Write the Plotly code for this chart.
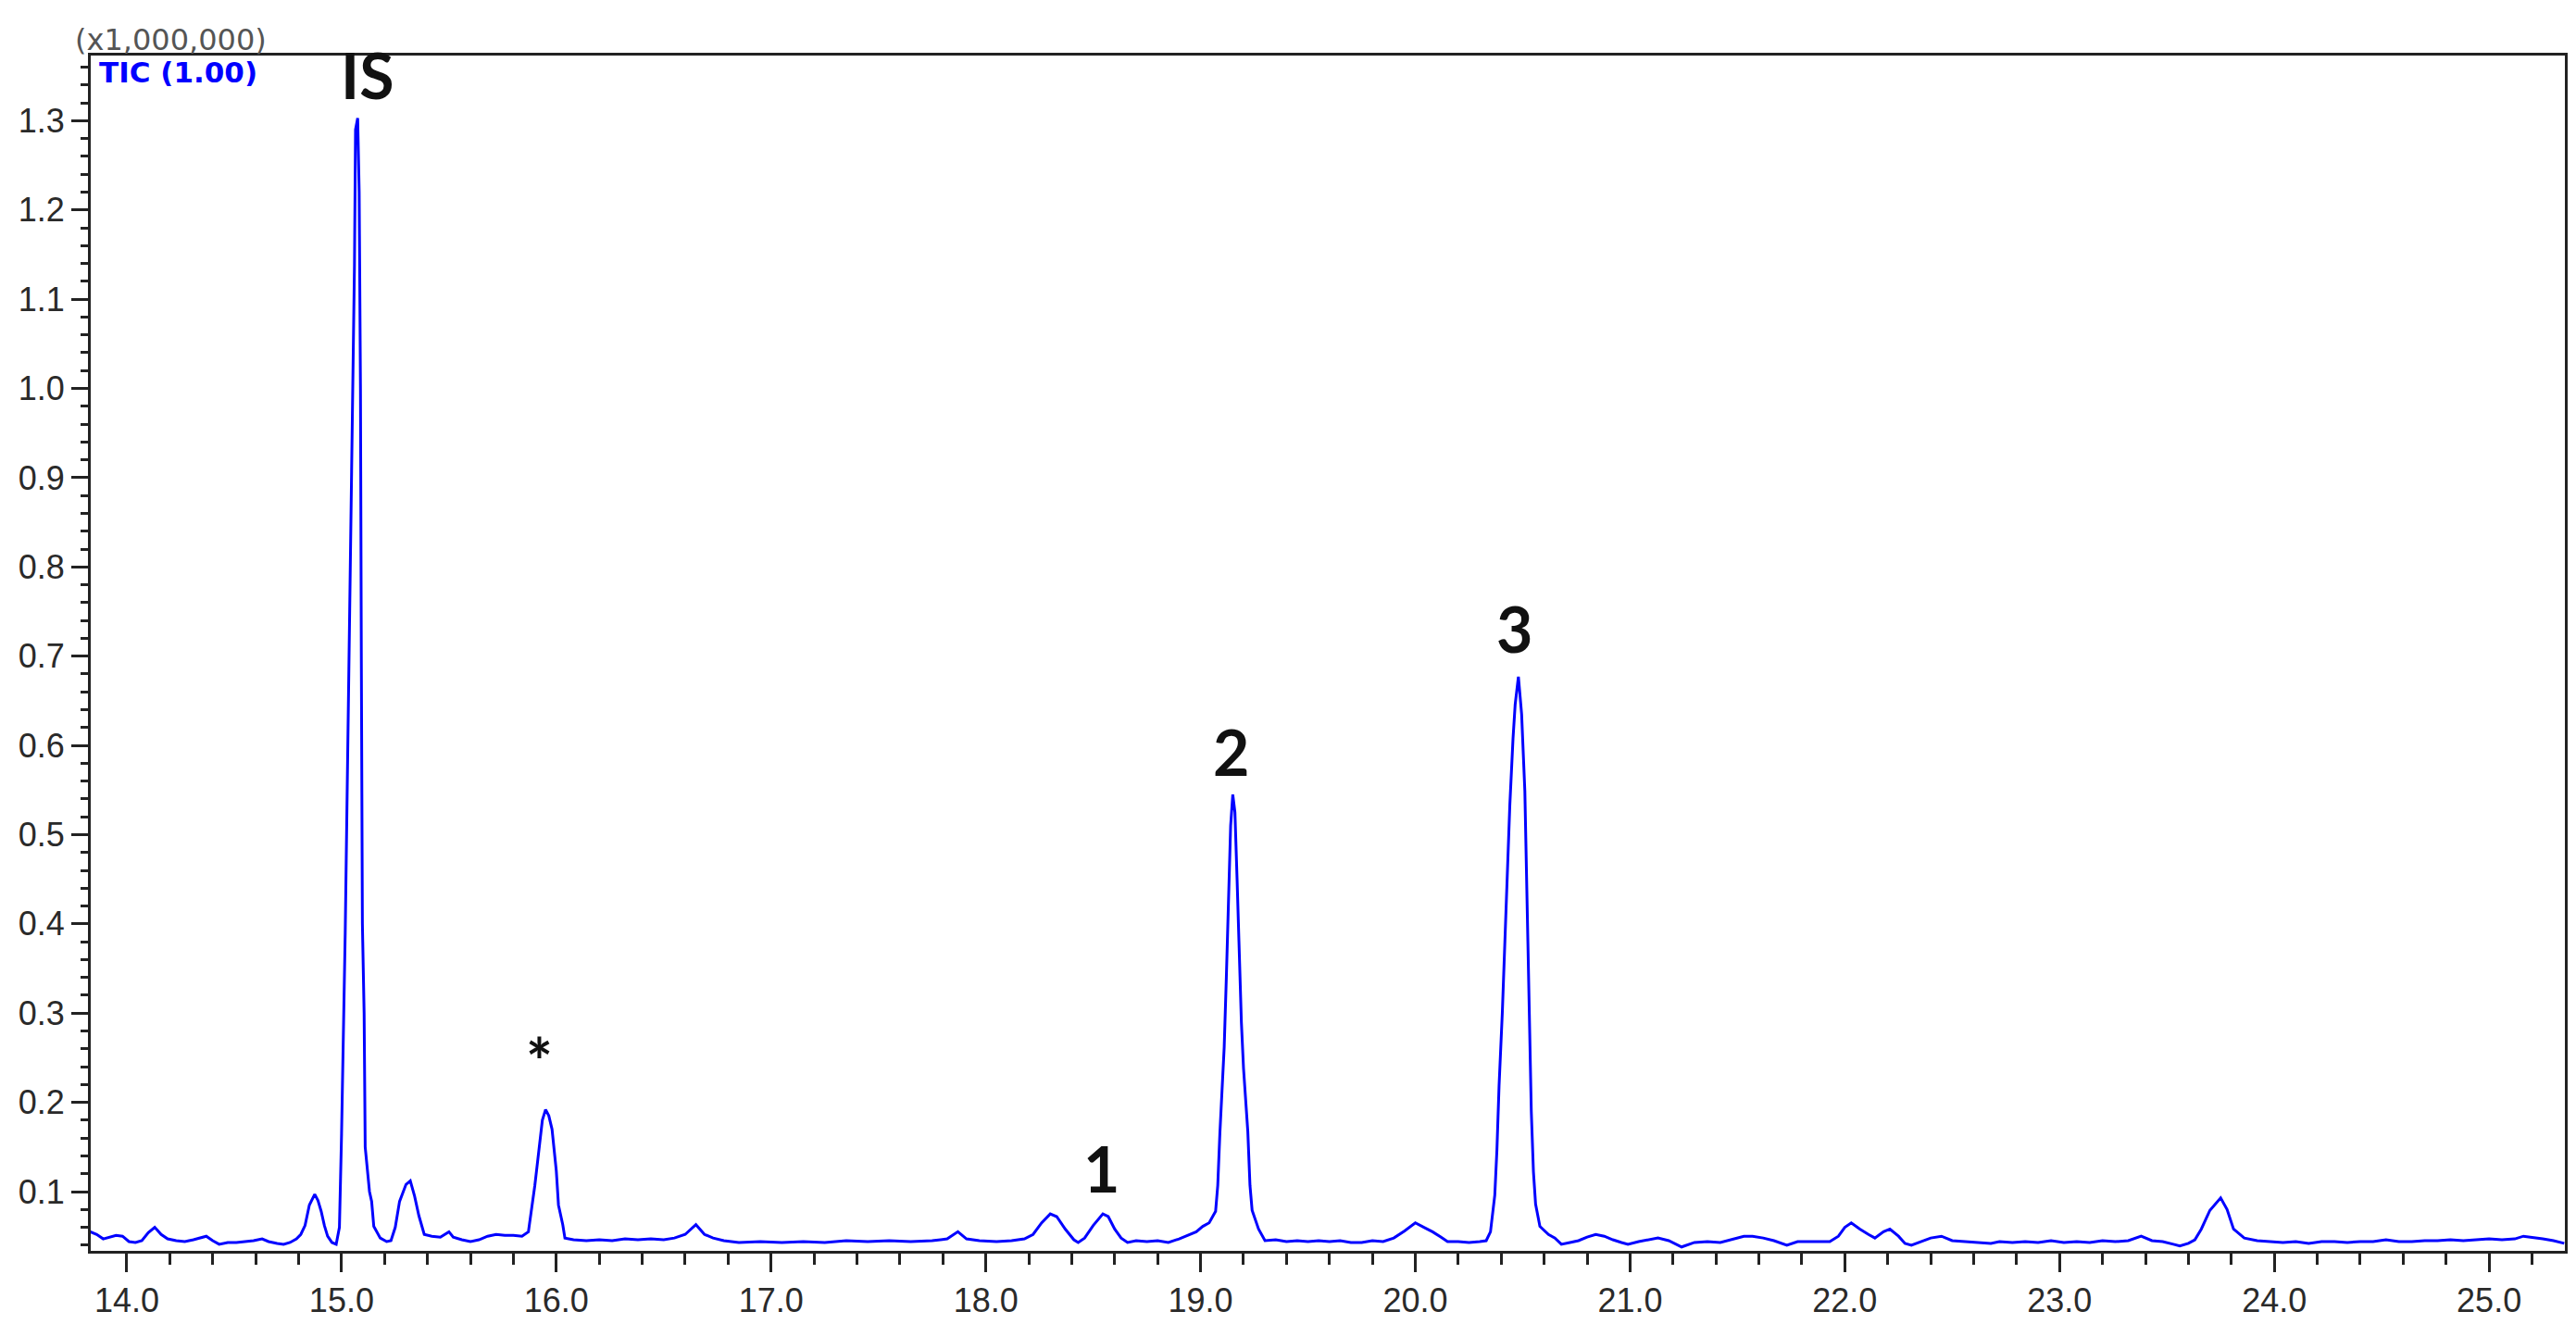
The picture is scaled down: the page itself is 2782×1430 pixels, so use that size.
import plotly.graph_objects as go

# TIC chromatogram (retention time in min, intensity x1,000,000)
rt = [13.83, 13.86, 13.89, 13.92, 13.95, 13.98, 14.01, 14.04, 14.07, 14.10, 14.13, 14.16, 14.19,
      14.23, 14.27, 14.31, 14.35, 14.37, 14.40, 14.43, 14.47, 14.51, 14.55, 14.59, 14.63, 14.66,
      14.70, 14.73, 14.76, 14.79, 14.81, 14.83, 14.85, 14.875, 14.89, 14.905, 14.92, 14.935, 14.955,
      14.975, 14.99, 15.00, 15.017, 15.035, 15.05, 15.06, 15.065, 15.075, 15.082, 15.088, 15.092,
      15.097, 15.105, 15.11, 15.13, 15.14, 15.15, 15.18, 15.21, 15.23, 15.25, 15.27, 15.30, 15.32,
      15.34, 15.36, 15.385, 15.42, 15.46, 15.50, 15.52, 15.56, 15.60, 15.64, 15.68, 15.72, 15.76,
      15.80, 15.84, 15.87, 15.90, 15.92, 15.935, 15.95, 15.965, 15.98, 16.00, 16.01, 16.03, 16.04,
      16.08, 16.14, 16.20, 16.26, 16.32, 16.38, 16.44, 16.50, 16.55, 16.60, 16.65, 16.69, 16.73,
      16.78, 16.85, 16.95, 17.05, 17.15, 17.25, 17.35, 17.45, 17.55, 17.65, 17.75, 17.82, 17.87,
      17.91, 17.97, 18.05, 18.12, 18.18, 18.22, 18.26, 18.30, 18.33, 18.37, 18.41, 18.43, 18.46,
      18.50, 18.545, 18.57, 18.60, 18.63, 18.66, 18.70, 18.75, 18.80, 18.85, 18.90, 18.94, 18.98,
      19.01, 19.04, 19.07, 19.08, 19.09, 19.10, 19.11, 19.12, 19.13, 19.14, 19.15, 19.16, 19.17,
      19.18, 19.19, 19.20, 19.21, 19.22, 19.23, 19.24, 19.27, 19.30, 19.35, 19.40, 19.45, 19.50,
      19.55, 19.60, 19.65, 19.70, 19.75, 19.80, 19.85, 19.90, 19.95, 20.00, 20.04, 20.08, 20.12,
      20.15, 20.20, 20.25, 20.30, 20.33, 20.35, 20.37, 20.38, 20.39, 20.405, 20.42, 20.44, 20.455,
      20.465, 20.48, 20.495, 20.51, 20.52, 20.53, 20.54, 20.55, 20.56, 20.58, 20.62, 20.65, 20.68,
      20.72, 20.76, 20.80, 20.84, 20.88, 20.92, 20.96, 20.99, 21.04, 21.08, 21.13, 21.18, 21.24,
      21.30, 21.36, 21.42, 21.48, 21.53, 21.57, 21.62, 21.67, 21.73, 21.78, 21.85, 21.93, 21.97,
      22.00, 22.03, 22.07, 22.11, 22.14, 22.18, 22.21, 22.25, 22.28, 22.31, 22.36, 22.40, 22.45,
      22.50, 22.56, 22.62, 22.68, 22.72, 22.78, 22.84, 22.90, 22.96, 23.02, 23.08, 23.14, 23.20,
      23.26, 23.32, 23.38, 23.43, 23.48, 23.53, 23.56, 23.60, 23.63, 23.66, 23.70, 23.75, 23.78,
      23.81, 23.86, 23.92, 23.98, 24.04, 24.10, 24.16, 24.22, 24.28, 24.34, 24.40, 24.46, 24.52,
      24.58, 24.64, 24.70, 24.76, 24.82, 24.88, 24.94, 25.00, 25.06, 25.12, 25.16, 25.20, 25.25,
      25.30, 25.35]
tic = [0.055, 0.052, 0.047, 0.049, 0.051, 0.050, 0.044, 0.043, 0.045, 0.054, 0.060, 0.052, 0.047,
       0.045, 0.044, 0.046, 0.049, 0.050, 0.045, 0.041, 0.043, 0.043, 0.044, 0.045, 0.047, 0.044,
       0.042, 0.041, 0.043, 0.047, 0.052, 0.062, 0.085, 0.097, 0.090, 0.078, 0.062, 0.050, 0.043,
       0.041, 0.060, 0.165, 0.39, 0.70, 0.98, 1.137, 1.29, 1.303, 1.22, 1.00, 0.70,
       0.40, 0.30, 0.15, 0.10, 0.089, 0.061, 0.048, 0.044, 0.045, 0.060, 0.089, 0.108, 0.112,
       0.095, 0.073, 0.052, 0.050, 0.049, 0.055, 0.049, 0.046, 0.044, 0.046, 0.050, 0.052, 0.051,
       0.051, 0.050, 0.055, 0.107, 0.148, 0.180, 0.192, 0.185, 0.170, 0.123, 0.085, 0.063, 0.048,
       0.046, 0.045, 0.046, 0.045, 0.047, 0.046, 0.047, 0.046, 0.048, 0.052, 0.063, 0.052, 0.048,
       0.045, 0.043, 0.044, 0.043, 0.044, 0.043, 0.045, 0.044, 0.045, 0.044, 0.045, 0.047, 0.055,
       0.047, 0.045, 0.044, 0.045, 0.047, 0.052, 0.065, 0.075, 0.072, 0.058, 0.046, 0.043, 0.048,
       0.062, 0.075, 0.072, 0.058, 0.048, 0.043, 0.045, 0.044, 0.045, 0.043, 0.047, 0.051, 0.055,
       0.061, 0.065, 0.078, 0.107, 0.166, 0.21, 0.262, 0.34, 0.43, 0.51, 0.545, 0.525, 0.45,
       0.36, 0.29, 0.238, 0.20, 0.167, 0.107, 0.079, 0.058, 0.045, 0.046, 0.044, 0.045, 0.044,
       0.045, 0.044, 0.045, 0.043, 0.043, 0.045, 0.044, 0.048, 0.056, 0.065, 0.060, 0.055, 0.049,
       0.044, 0.044, 0.043, 0.044, 0.045, 0.055, 0.096, 0.147, 0.219, 0.30, 0.40, 0.533, 0.608,
       0.646, 0.677, 0.635, 0.549, 0.43, 0.30, 0.19, 0.122, 0.086, 0.061, 0.052, 0.048, 0.041,
       0.043, 0.045, 0.049, 0.052, 0.050, 0.046, 0.043, 0.041, 0.044, 0.046, 0.048, 0.045, 0.038,
       0.043, 0.044, 0.043, 0.047, 0.050, 0.050, 0.048, 0.045, 0.040, 0.044, 0.044, 0.044, 0.050,
       0.060, 0.065, 0.058, 0.052, 0.048, 0.055, 0.058, 0.050, 0.042, 0.040, 0.044, 0.048, 0.050,
       0.045, 0.044, 0.043, 0.042, 0.044, 0.043, 0.044, 0.043, 0.045, 0.043, 0.044, 0.043, 0.045,
       0.044, 0.045, 0.050, 0.045, 0.044, 0.041, 0.039, 0.042, 0.046, 0.058, 0.079, 0.093, 0.080,
       0.058, 0.048, 0.045, 0.044, 0.043, 0.044, 0.042, 0.044, 0.044, 0.043, 0.044, 0.044, 0.046,
       0.044, 0.044, 0.045, 0.045, 0.046, 0.045, 0.046, 0.047, 0.046, 0.047, 0.050, 0.049, 0.047,
       0.045, 0.042]

# peak labels
peak_labels = ["IS", "*", "1", "2", "3"]
label_rt = [15.12, 15.92, 18.54, 19.14, 20.46]
label_y = [1.352, 0.247, 0.126, 0.593, 0.731]

fig = go.Figure()
fig.add_trace(go.Scatter(x=rt, y=tic, mode="lines",
                         line=dict(color="#0000ff", width=3), showlegend=False))

for txt, x, y in zip(peak_labels, label_rt, label_y):
    fig.add_annotation(x=x, y=y, text="<b>%s</b>" % txt, showarrow=False,
                       xanchor="center", yanchor="middle",
                       font=dict(family="Lato", size=68, color="#111111"))

fig.add_annotation(xref="paper", yref="paper", x=0.0322, y=1.0129, text="(x1,000,000)",
                   showarrow=False, xanchor="center", yanchor="middle",
                   font=dict(family="DejaVu Sans", size=32, color="#555555"))
fig.add_annotation(xref="paper", yref="paper", x=0.0026, y=1.0015, text="<b>TIC (1.00)</b>",
                   showarrow=False, xanchor="left", yanchor="top",
                   font=dict(family="DejaVu Sans", size=31, color="#0000ff"))

axis_common = dict(showline=True, linecolor="#222222", linewidth=3, mirror=True,
                   showgrid=False, zeroline=False, ticks="outside", tickcolor="#222222",
                   tickwidth=2.5, tickformat=".1f",
                   tickfont=dict(family="Liberation Sans", size=36, color="#2a2a2a"))

fig.update_xaxes(range=[13.832, 25.353], tick0=14, dtick=1, ticklen=20,
                 minor=dict(dtick=0.2, tick0=14, ticklen=12, tickwidth=2.5,
                            tickcolor="#222222", ticks="outside"),
                 **axis_common)
fig.update_yaxes(range=[0.0336, 1.373], tick0=0.1, dtick=0.1, ticklen=18,
                 minor=dict(dtick=0.02, tick0=0.1, ticklen=8, tickwidth=2.5,
                            tickcolor="#222222", ticks="outside"),
                 **axis_common)

fig.update_layout(width=2782, height=1430, plot_bgcolor="white", paper_bgcolor="white",
                  margin=dict(l=88, r=20, t=52, b=87))

fig.write_html("out.html")
